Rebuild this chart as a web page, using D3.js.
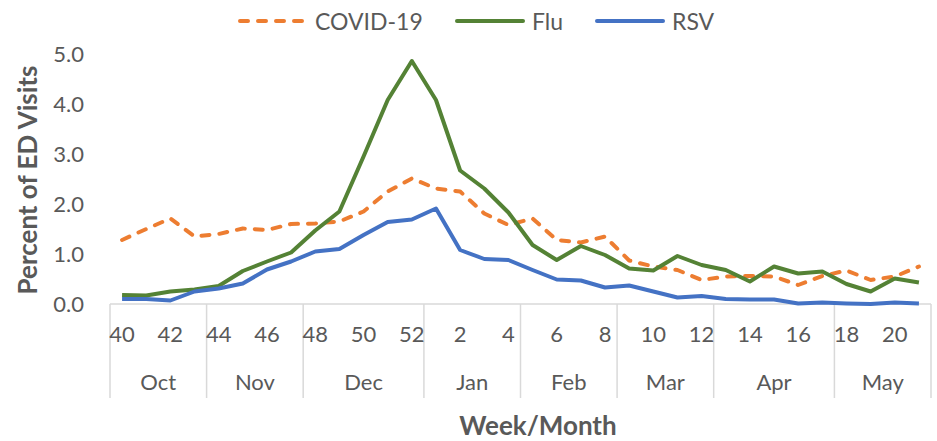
<!DOCTYPE html>
<html>
<head>
<meta charset="utf-8">
<script src="https://cdn.jsdelivr.net/npm/d3@7"></script>
<style>
  html, body { margin: 0; padding: 0; background: #fff; }
  text { font-family: Lato, "Open Sans", sans-serif; fill: #595959; }
</style>
</head>
<body>
<div id="chart"></div>
<script>
'use strict'

// Weeks of the season (week 40 of one year to week 21 of the next)
const weeks = [40, 41, 42, 43, 44, 45, 46, 47, 48, 49, 50, 51, 52,
  1, 2, 3, 4, 5, 6, 7, 8, 9, 10, 11, 12, 13, 14, 15, 16, 17, 18, 19, 20, 21]

// Month groups: name and the first week of each month
const monthNames = ['Oct', 'Nov', 'Dec', 'Jan', 'Feb', 'Mar', 'Apr', 'May']
const monthStartWeeks = [40, 44, 48, 1, 5, 9, 13, 18]

// Percent of ED visits
const covid = [1.28, 1.50, 1.71, 1.35, 1.40, 1.51, 1.48, 1.60, 1.61, 1.65, 1.85, 2.25, 2.51,
  2.31, 2.25, 1.81, 1.58, 1.71, 1.28, 1.23, 1.35, 0.87, 0.75, 0.68, 0.48, 0.55, 0.56,
  0.55, 0.38, 0.56, 0.67, 0.48, 0.55, 0.75]
const flu = [0.18, 0.17, 0.25, 0.29, 0.36, 0.66, 0.85, 1.03, 1.47, 1.85, 2.95, 4.08, 4.86,
  4.08, 2.67, 2.31, 1.83, 1.18, 0.88, 1.16, 0.98, 0.71, 0.67, 0.96, 0.78, 0.68, 0.45,
  0.75, 0.61, 0.65, 0.40, 0.25, 0.51, 0.43]
const rsv = [0.10, 0.10, 0.07, 0.25, 0.31, 0.41, 0.69, 0.85, 1.05, 1.10, 1.38, 1.64, 1.69,
  1.91, 1.08, 0.90, 0.88, 0.68, 0.49, 0.47, 0.33, 0.37, 0.25, 0.13, 0.16, 0.10, 0.09,
  0.09, 0.01, 0.03, 0.01, 0.00, 0.03, 0.01]

const yTicks = [0, 1, 2, 3, 4, 5]

const series = [
  { name: 'COVID-19', values: covid, color: '#ED7D31', dash: '8,10' },
  { name: 'Flu', values: flu, color: '#548235', dash: null },
  { name: 'RSV', values: rsv, color: '#4472C4', dash: null }
]

const width = 937
const height = 441
const plot = { left: 110, right: 931, top: 54, bottom: 304 }
const axisGray = '#d9d9d9'

const svg = d3.select('#chart')
  .append('svg')
  .attr('width', width)
  .attr('height', height)

const x = d3.scaleBand()
  .domain(weeks)
  .range([plot.left, plot.right])
  .padding(0)

const y = d3.scaleLinear()
  .domain([0, 5])
  .range([plot.bottom, plot.top])

const cx = w => x(w) + x.bandwidth() / 2

// Y axis labels (no axis line, no gridlines)
const yAxis = svg.append('g')
  .attr('transform', 'translate(' + 84 + ',0)')
  .call(d3.axisLeft(y).tickValues(yTicks).tickFormat(d3.format('.1f')).tickSize(0).tickPadding(0))
yAxis.select('.domain').remove()
yAxis.selectAll('text')
  .style('font-size', '22px')
  .style('font-family', null)
  .attr('fill', null)
  .attr('dy', '0.35em')

// Category axis line
svg.append('line')
  .attr('x1', plot.left)
  .attr('x2', plot.right)
  .attr('y1', plot.bottom)
  .attr('y2', plot.bottom)
  .attr('stroke', axisGray)
  .attr('stroke-width', 1.5)

// Month boundaries
const boundaries = monthStartWeeks.map(w => x(w)).concat([plot.right])
svg.append('g')
  .selectAll('line')
  .data(boundaries)
  .join('line')
  .attr('x1', d => d)
  .attr('x2', d => d)
  .attr('y1', plot.bottom)
  .attr('y2', 398)
  .attr('stroke', axisGray)
  .attr('stroke-width', 1.5)

// Week labels, every other week
const xAxis = svg.append('g')
  .attr('transform', 'translate(0,' + plot.bottom + ')')
  .call(d3.axisBottom(x)
    .tickValues(weeks.filter((w, i) => i % 2 === 0))
    .tickSize(0)
    .tickPadding(0))
xAxis.select('.domain').remove()
xAxis.selectAll('text')
  .style('font-size', '22px')
  .style('font-family', null)
  .attr('fill', null)
  .attr('dy', null)
  .attr('y', 29)
  .attr('dominant-baseline', 'central')

// Month labels
svg.append('g')
  .selectAll('text')
  .data(monthNames)
  .join('text')
  .attr('x', (d, i) => (boundaries[i] + boundaries[i + 1]) / 2)
  .attr('y', 381)
  .attr('text-anchor', 'middle')
  .attr('dominant-baseline', 'central')
  .style('font-size', '22px')
  .text(d => d)

// Axis titles
svg.append('text')
  .attr('transform', 'translate(27,' + 180 + ') rotate(-90)')
  .attr('text-anchor', 'middle')
  .attr('dominant-baseline', 'central')
  .style('font-size', '26px')
  .style('font-weight', 'bold')
  .text('Percent of ED Visits')

svg.append('text')
  .attr('x', 538)
  .attr('y', 425)
  .attr('text-anchor', 'middle')
  .attr('dominant-baseline', 'central')
  .style('font-size', '26px')
  .style('font-weight', 'bold')
  .text('Week/Month')

// Series lines
const line = d3.line()
  .x((d, i) => cx(weeks[i]))
  .y(d => y(d))

svg.append('g')
  .selectAll('path')
  .data(series)
  .join('path')
  .attr('d', d => line(d.values))
  .attr('fill', 'none')
  .attr('stroke', d => d.color)
  .attr('stroke-width', 4)
  .attr('stroke-linejoin', 'round')
  .attr('stroke-linecap', d => d.dash ? 'round' : 'butt')
  .attr('stroke-dasharray', d => d.dash)

// Legend
const legendX = [238, 455, 595]
const legend = svg.append('g')
  .selectAll('g')
  .data(series)
  .join('g')
  .attr('transform', (d, i) => 'translate(' + legendX[i] + ',21)')

legend.append('line')
  .attr('x1', 2)
  .attr('x2', 68)
  .attr('stroke', d => d.color)
  .attr('stroke-width', 4)
  .attr('stroke-linecap', 'round')
  .attr('stroke-dasharray', d => d.dash)

legend.append('text')
  .attr('x', 77)
  .attr('dominant-baseline', 'central')
  .style('font-size', '23px')
  .text(d => d.name)
</script>
</body>
</html>
